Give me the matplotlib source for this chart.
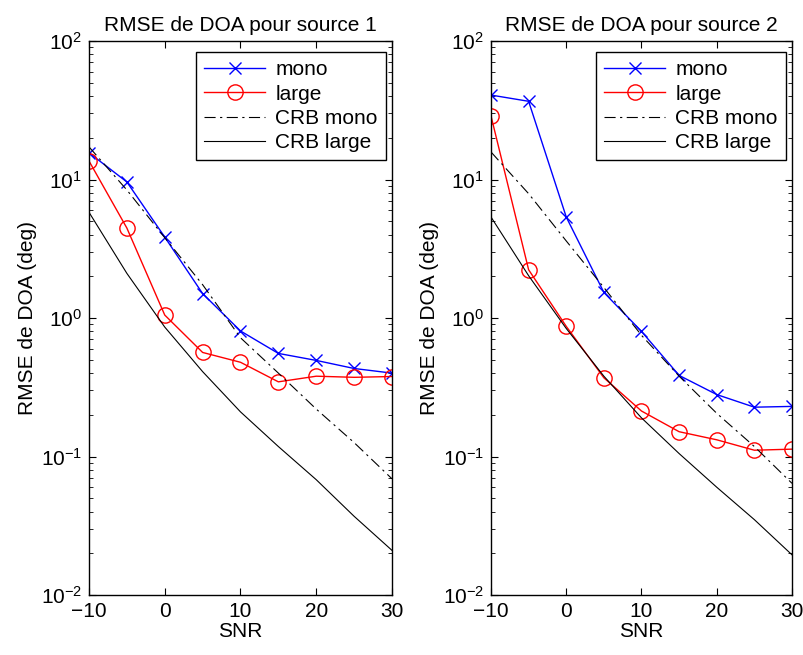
import matplotlib
matplotlib.use("Agg")
import matplotlib.pyplot as plt
from matplotlib.ticker import LogLocator, NullFormatter

snr = [-10, -5, 0, 5, 10, 15, 20, 25, 30]

# source 1
mono_1 = [15.6, 9.6, 3.84, 1.50, 0.806, 0.555, 0.494, 0.432, 0.40]
large_1 = [13.6, 4.46, 1.05, 0.564, 0.479, 0.346, 0.38, 0.373, 0.378]
crb_mono_1 = [17.2, 8.4, 3.8, 1.74, 0.72, 0.40, 0.22, 0.126, 0.069]
crb_large_1 = [5.8, 2.1, 0.86, 0.41, 0.21, 0.118, 0.068, 0.037, 0.021]

# source 2
mono_2 = [40.7, 36.7, 5.36, 1.53, 0.80, 0.385, 0.28, 0.227, 0.23]
large_2 = [28.8, 2.23, 0.87, 0.37, 0.213, 0.151, 0.132, 0.111, 0.113]
crb_mono_2 = [15.8, 7.9, 3.6, 1.66, 0.75, 0.38, 0.205, 0.118, 0.064]
crb_large_2 = [5.36, 2.02, 0.84, 0.38, 0.19, 0.105, 0.06, 0.035, 0.0195]

titles = ["RMSE de DOA pour source 1", "RMSE de DOA pour source 2"]
labels = ["mono", "large", "CRB mono", "CRB large"]

FS = 15
plt.rcParams.update({
    "font.family": ["Liberation Sans", "DejaVu Sans"],
    "font.size": FS,
    "axes.linewidth": 1.0,
    "mathtext.fontset": "custom",
    "mathtext.rm": "Liberation Sans",
})

fig = plt.figure(figsize=(8.04, 6.55), dpi=100)
W, H = 804, 655
boxes = [(89, 41, 392, 595), (491, 41, 792, 595)]
series = [
    (mono_1, large_1, crb_mono_1, crb_large_1),
    (mono_2, large_2, crb_mono_2, crb_large_2),
]

for (x0, y0, x1, y1), title, (mono, large, cm, cl) in zip(boxes, titles, series):
    ax = fig.add_axes([x0 / W, 1 - y1 / H, (x1 - x0) / W, (y1 - y0) / H])
    ax.semilogy(snr, mono, color="blue", marker="x", markersize=8, linewidth=1.0, label=labels[0])
    ax.semilogy(snr, large, color="red", marker="o", markersize=11, markerfacecolor="none",
                linewidth=1.0, label=labels[1])
    ax.semilogy(snr, cm, color="black", linestyle=(0, (10, 4, 2, 4)), linewidth=0.8, label=labels[2])
    ax.semilogy(snr, cl, color="black", linewidth=0.8, label=labels[3])
    ax.set_xlim(-10, 30)
    ax.set_ylim(1e-2, 1e2)
    ax.set_xticks([-10, 0, 10, 20, 30])
    ax.set_xticklabels(["\u221210", "0", "10", "20", "30"])
    ax.yaxis.set_major_locator(LogLocator(base=10, numticks=10))
    ax.yaxis.set_minor_locator(LogLocator(base=10, subs=range(2, 10), numticks=20))
    ax.yaxis.set_minor_formatter(NullFormatter())
    ax.tick_params(which="both", direction="in", top=True, right=True)
    ax.tick_params(which="major", length=5, pad=5)
    ax.tick_params(which="minor", length=3)
    ax.set_title(title, fontsize=FS, pad=7)
    ax.set_xlabel("SNR", labelpad=1)
    ax.set_ylabel("RMSE de DOA (deg)", labelpad=3)
    leg = ax.legend(loc="upper right", bbox_to_anchor=(0.98, 0.98), fancybox=False,
                    edgecolor="black", framealpha=1, borderaxespad=0.0, fontsize=FS,
                    handlelength=2.9, labelspacing=0.25, borderpad=0.4, handletextpad=0.5)
    leg.get_frame().set_linewidth(1.0)

fig.savefig("out.png", dpi=100)
